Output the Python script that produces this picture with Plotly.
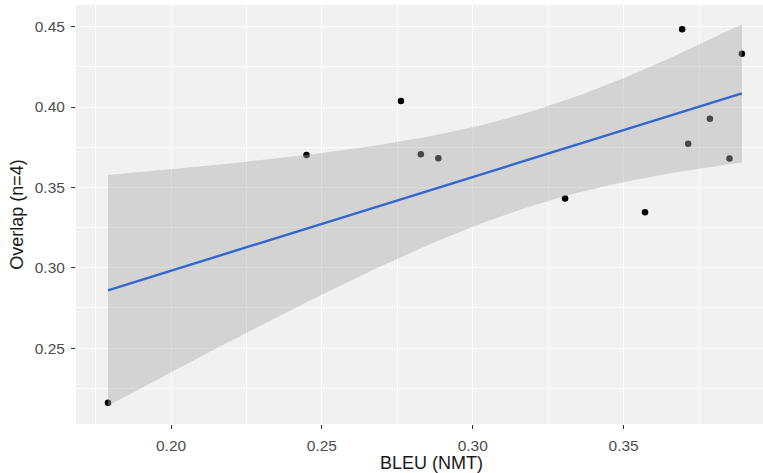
import numpy as np
import plotly.graph_objects as go

# Data
bleu_nmt = [0.1791, 0.2449, 0.2762, 0.2828, 0.2886, 0.3306, 0.3571, 0.3694, 0.3714, 0.3786, 0.3851, 0.3892]
overlap_n4 = [0.2160, 0.3701, 0.4037, 0.3707, 0.3682, 0.3431, 0.3345, 0.4484, 0.3771, 0.3927, 0.3680, 0.4332]
x_ticks = [0.20, 0.25, 0.30, 0.35]
y_ticks = [0.25, 0.30, 0.35, 0.40, 0.45]

# Linear model with 95% confidence band (like geom_smooth(method="lm"))
x = np.array(bleu_nmt)
y = np.array(overlap_n4)
n = len(x)
b1, b0 = np.polyfit(x, y, 1)
resid = y - (b0 + b1 * x)
s = np.sqrt(np.sum(resid ** 2) / (n - 2))
t_crit = 2.228  # qt(0.975, df=10)
xs = np.linspace(x.min(), x.max(), 80)
fit = b0 + b1 * xs
se = s * np.sqrt(1 / n + (xs - x.mean()) ** 2 / np.sum((x - x.mean()) ** 2))
lo = fit - t_crit * se
hi = fit + t_crit * se

fig = go.Figure()
fig.add_trace(go.Scatter(x=bleu_nmt, y=overlap_n4, mode="markers",
                         marker=dict(color="black", size=6.5), showlegend=False,
                         hoverinfo="x+y"))
fig.add_trace(go.Scatter(x=np.concatenate([xs, xs[::-1]]), y=np.concatenate([hi, lo[::-1]]),
                         mode="lines", line=dict(width=0), fill="toself",
                         fillcolor="rgba(170,170,170,0.42)", showlegend=False, hoverinfo="skip"))
fig.add_trace(go.Scatter(x=xs, y=fit, mode="lines", line=dict(color="#3366CC", width=2.4),
                         showlegend=False))

axis_common = dict(showline=False, zeroline=False, gridcolor="white", gridwidth=1.3,
                   ticks="outside", ticklen=4, tickwidth=1.3, tickcolor="#333333",
                   ticklabelstandoff=3,
                   tickfont=dict(family="Liberation Sans, Arial", size=15.5, color="#4D4D4D"),
                   minor=dict(showgrid=True, gridcolor="white", gridwidth=0.7, ticks=""))

fig.update_layout(
    width=763, height=473,
    margin=dict(l=76, r=0, t=5, b=49),
    paper_bgcolor="white", plot_bgcolor="#F1F1F1",
    font=dict(family="Liberation Sans, Arial", color="black"),
    xaxis=dict(axis_common, range=[0.1685, 0.3962], tickvals=x_ticks,
               ticktext=[f"{v:.2f}" for v in x_ticks]),
    yaxis=dict(axis_common, range=[0.2028, 0.4635], tickvals=y_ticks,
               ticktext=[f"{v:.2f}" for v in y_ticks],
               title=dict(text="Overlap (n=4)", font=dict(size=18, color="#1A1A1A"), standoff=6)),
    annotations=[dict(text="BLEU (NMT)", xref="paper", yref="paper", x=0.518, y=-0.094,
                      xanchor="center", yanchor="middle", showarrow=False,
                      font=dict(family="Liberation Sans, Arial", size=18, color="#1A1A1A"))],
)
fig.update_xaxes(minor=dict(tickvals=[0.175, 0.225, 0.275, 0.325, 0.375]))
fig.update_yaxes(minor=dict(tickvals=[0.225, 0.275, 0.325, 0.375, 0.425]))

fig.write_html("out.html")
